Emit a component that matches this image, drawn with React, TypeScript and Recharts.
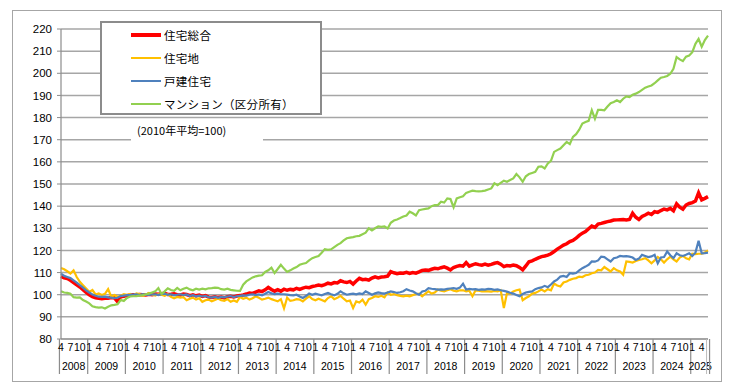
import React from "react";
import { CartesianGrid, Line, LineChart, XAxis, YAxis } from "recharts";

// 不動産価格指数（住宅） 2008年4月〜2025年6月, 2010年平均=100
const seriesNames = ["住宅総合", "住宅地", "戸建住宅", "マンション（区分所有）"];
const seriesKeys = ["total", "land", "house", "condo"];
const seriesColors = ["#ff0000", "#ffc000", "#4f81bd", "#92d050"];
const seriesWidths = [3.5, 2.2, 2.2, 2.2];
const yTicks = [80, 90, 100, 110, 120, 130, 140, 150, 160, 170, 180, 190, 200, 210, 220];
const monthLabels = [1, 4, 7, 10];
const startYear = 2008;
const startMonth = 4;

const total = [
  108.3, 107.6, 107.3, 106.5, 105.5, 104.5, 103.5, 102.3, 101.0,
  100.0, 99.1, 98.6, 98.4, 98.2, 98.4, 98.4, 98.7, 98.6, 96.9, 99.1, 99.3,
  99.6, 99.9, 100.0, 99.8, 100.1, 100.0, 99.9, 100.2, 100.0, 100.3, 100.2, 100.4,
  100.6, 100.1, 100.2, 100.4, 100.0, 99.9, 100.3, 100.1, 99.6, 100.0, 99.5, 99.8,
  99.2, 99.6, 98.9, 98.8, 99.1, 98.7, 98.9, 98.6, 99.1, 99.3, 99.0, 99.4,
  99.6, 99.9, 100.3, 100.8, 100.6, 101.2, 101.8, 101.4, 102.2, 103.3, 102.4, 101.6,
  102.3, 101.6, 102.5, 102.0, 102.4, 102.2, 102.9, 102.4, 103.0, 103.4, 103.2, 103.7,
  104.0, 104.4, 104.1, 104.6, 105.2, 104.9, 105.5, 105.3, 106.3, 105.8, 105.5, 106.0,
  104.8, 106.2, 107.4, 106.8, 107.0, 106.6, 107.5, 108.1, 107.6, 108.0, 108.1, 108.4,
  110.4, 109.9, 109.5, 109.8, 109.7, 110.1, 109.6, 110.0, 109.7, 110.3, 111.0, 111.2,
  111.0, 111.5, 111.9, 111.7, 112.2, 112.6, 112.0, 111.2, 112.3, 112.8, 113.2, 112.9,
  114.5, 112.9, 113.5, 114.0, 113.6, 113.3, 113.8, 113.3, 113.7, 114.2, 114.5, 113.8,
  112.7, 113.2, 113.0, 113.4, 113.1, 112.3, 111.2, 113.0, 114.9, 115.3, 116.0, 116.6,
  117.2, 117.5, 117.9, 118.5, 119.5, 120.6, 121.5, 122.4, 123.0, 124.0, 124.5, 125.5,
  126.8, 127.8, 128.5, 129.8, 131.0, 130.4, 131.9, 132.2, 132.6, 133.0, 133.3, 133.7,
  133.8, 133.9, 134.0, 133.8, 134.0, 136.8, 135.0, 134.0, 135.3, 136.0, 136.8, 136.2,
  137.5, 137.2, 138.0, 138.7, 138.3, 139.0, 137.9, 141.0, 139.5, 138.6, 140.5, 141.2,
  141.6, 142.3, 146.0, 142.8, 143.5, 144.3,
];

const land = [
  112.1, 111.5, 110.6, 109.6, 111.0, 108.0, 105.8, 104.3, 102.8,
  101.3, 102.1, 100.1, 100.6, 99.9, 100.4, 102.5, 99.1, 99.9, 99.1, 99.5, 100.2,
  99.9, 100.4, 99.6, 100.6, 100.3, 99.5, 100.0, 100.8, 100.1, 99.6, 100.3, 100.0,
  99.5, 100.2, 99.1, 98.4, 99.0, 98.7, 98.9, 97.5, 98.2, 98.7, 97.8, 98.4,
  96.8, 97.5, 97.8, 97.0, 97.6, 98.3, 97.5, 97.2, 98.0, 96.8, 97.4, 96.8,
  99.0, 98.2, 98.7, 97.8, 98.4, 99.3, 98.6, 97.8, 98.2, 98.7, 98.0, 97.5,
  97.0, 98.0, 93.8, 98.7, 97.2, 97.5, 98.0, 97.8, 97.0, 98.2, 99.3, 98.0,
  97.5, 98.2, 97.6, 97.0, 98.5, 99.3, 98.0, 98.6, 99.5, 98.2, 97.0, 97.4,
  94.0, 97.0, 96.5, 97.8, 95.5, 98.0, 98.5, 99.3, 99.0, 99.5, 98.8, 101.0,
  100.0, 100.3, 99.8, 99.5, 99.3, 99.6, 99.3, 99.8, 100.2, 100.5, 99.3, 100.5,
  101.5, 100.5, 101.0, 102.3, 101.8, 101.5, 102.0, 102.5, 101.8, 101.5, 102.0, 102.0,
  101.5, 101.8, 99.3, 102.0, 101.8, 101.5, 101.6, 101.5, 101.4, 101.7, 101.5, 102.0,
  94.0, 100.8, 100.5, 101.5, 102.0, 102.3, 97.5, 98.5, 99.3, 100.5, 100.8, 101.5,
  102.3, 101.5, 102.5, 102.0, 105.0, 104.2, 103.7, 105.5, 106.0, 106.7, 107.2, 107.5,
  108.2, 108.0, 108.8, 109.0, 109.7, 110.0, 111.2, 111.0, 112.5, 111.5, 110.5, 112.0,
  111.0, 110.5, 109.0, 115.0, 114.8, 114.5, 115.2, 115.7, 116.0, 116.5, 115.5, 114.2,
  115.5, 117.0, 116.0, 114.5, 116.0, 117.2, 116.0, 115.0, 116.8, 117.5, 116.5, 116.0,
  118.5, 118.3, 118.5, 118.5, 119.0, 120.0,
];

const house = [
  109.5, 108.5, 108.0, 107.5, 106.5, 105.5, 104.3, 103.2, 102.0,
  101.0, 100.1, 99.5, 99.1, 99.0, 99.1, 98.8, 98.7, 98.4, 98.6, 99.4, 99.6,
  99.8, 99.9, 100.1, 100.2, 99.8, 100.3, 100.0, 99.9, 100.1, 100.2, 99.8, 100.3,
  100.5, 99.9, 100.2, 99.7, 100.0, 100.2, 99.8, 100.1, 99.4, 99.8, 99.3, 99.6,
  99.2, 99.5, 98.9, 98.7, 99.1, 98.6, 99.0, 98.8, 99.2, 99.4, 98.9, 99.3,
  99.5, 99.7, 99.6, 100.0, 100.2, 99.8, 100.1, 99.7, 100.4, 101.2, 100.6, 100.3,
  100.5, 100.2, 100.2, 100.0, 99.8, 99.7, 100.0, 99.2, 98.5, 99.4, 100.5, 100.0,
  100.5, 100.1, 99.7, 100.3, 100.8, 100.2, 99.7, 100.4, 101.5, 100.6, 100.0, 100.3,
  100.5, 100.2, 100.6, 100.3, 101.5, 100.8, 100.0, 100.6, 101.0, 100.7, 100.5, 101.0,
  101.5, 101.2, 100.8, 101.1, 101.6, 102.5, 101.9, 101.5, 100.7, 100.0, 101.5, 101.8,
  103.0, 102.7, 102.5, 102.3, 102.4, 102.3, 102.6, 102.8, 103.0, 102.7, 103.2, 105.0,
  102.3, 102.6, 102.4, 102.5, 102.2, 102.4, 102.3, 102.6, 102.5, 102.2, 102.4, 102.0,
  101.7, 101.4, 100.9, 100.5, 99.9, 99.3, 100.3, 101.0, 101.3, 101.5, 102.5, 103.0,
  103.3, 104.0, 103.4, 104.6, 106.0, 106.8, 108.2, 108.5, 108.0, 109.7, 109.5, 109.8,
  111.0, 112.0, 112.7, 113.5, 115.0, 114.9, 115.5, 117.2, 117.0, 116.0, 115.0, 116.5,
  116.8, 117.5, 117.3, 117.4, 117.2, 116.8, 115.7, 116.3, 118.0, 117.5, 117.0, 117.3,
  118.0, 114.2, 116.8, 117.0, 119.5, 117.8, 116.5, 118.7, 117.8, 117.5, 118.0, 118.7,
  117.5, 119.0, 124.4, 118.7, 118.8, 119.0,
];

const condo = [
  101.6, 101.0, 100.8, 100.4, 98.9, 98.7, 98.8, 97.6, 96.9,
  96.1, 94.8, 94.4, 94.2, 94.3, 93.8, 94.6, 95.2, 95.4, 95.7, 97.6, 97.2,
  98.5, 99.2, 99.3, 99.4, 99.6, 99.8, 100.2, 100.5, 101.0, 101.5, 103.0, 100.3,
  101.5, 102.9, 102.1, 101.8, 103.1, 102.0, 102.7, 103.2, 102.4, 102.0, 102.7, 102.3,
  102.7, 102.4, 102.9, 103.0, 103.2, 103.1, 102.5, 102.3, 102.7, 102.2, 102.0, 101.8,
  101.7, 104.5, 106.0, 106.9, 107.8, 108.3, 108.6, 108.8, 110.3, 111.0, 112.2, 109.8,
  111.6, 113.5, 111.8, 110.3, 111.0, 111.8, 112.5, 113.5, 114.0, 114.3, 115.5, 116.5,
  117.0, 117.5, 119.0, 120.6, 120.3, 120.5, 121.5, 122.5, 123.3, 124.5, 125.5, 125.8,
  126.0, 126.4, 126.6, 127.3, 128.0, 130.0, 129.0, 130.0, 130.8, 130.6, 130.8, 129.9,
  132.5, 133.5, 134.0, 134.6, 135.3, 135.8, 137.5, 136.8, 135.8, 138.2, 138.5, 138.8,
  139.0, 140.0, 140.5, 140.5, 142.0, 141.6, 143.5, 143.2, 139.5, 143.5, 144.0, 144.5,
  146.0, 146.5, 147.0, 146.8, 146.7, 146.8, 147.0, 147.5, 148.0, 150.3, 149.5, 150.5,
  151.5, 151.0, 151.8, 152.5, 154.5, 153.0, 151.0, 153.5, 154.5, 155.0, 155.5, 157.8,
  158.0, 157.0, 159.3, 160.5, 164.5, 165.3, 166.0, 167.5, 169.0, 168.0, 171.3, 172.5,
  174.5, 177.3, 178.0, 178.5, 183.3, 179.5, 183.5, 183.5, 183.3, 185.0, 186.5, 187.0,
  187.8, 187.0, 188.5, 189.6, 189.3, 190.3, 190.8, 191.5, 192.5, 193.5, 194.0, 194.5,
  195.5, 196.8, 198.0, 198.3, 198.8, 199.8, 202.0, 207.3, 206.3, 205.5, 207.5, 208.0,
  209.5, 213.3, 215.5, 212.0, 215.0, 217.0,
];

const W = 739;
const H = 389;
const M = { top: 29, right: 31, bottom: 15, left: 21 };
const Y_AXIS_W = 40;
const X_AXIS_H = 35;
const PLOT_W = W - M.left - M.right - Y_AXIS_W;
const AXIS_GRAY = "#8c8c8c";
const FONT = "'Liberation Sans', Arial, 'Noto Sans CJK JP', sans-serif";

const data = total.map((v, i) => {
  const m0 = startMonth - 1 + i;
  return {
    idx: i,
    year: startYear + Math.floor(m0 / 12),
    month: (m0 % 12) + 1,
    total: v,
    land: land[i],
    house: house[i],
    condo: condo[i],
  };
});

// first / last index of each year, for the year labels under the month labels
const yearSpan: Record<number, [number, number]> = {};
data.forEach((d) => {
  if (!yearSpan[d.year]) yearSpan[d.year] = [d.idx, d.idx];
  yearSpan[d.year][1] = d.idx;
});

function MonthYearTick(props: any) {
  const { x, y, payload } = props;
  const i = Number(payload.value);
  const d = data[i];
  const band = payload.offset ? payload.offset * 2 : PLOT_W / data.length;
  const [first, last] = yearSpan[d.year];
  const mid = (first + last) / 2;
  const out: React.ReactNode[] = [];

  if (d.month === 1 || i === 0) {
    const lx = x - band / 2;
    out.push(<line key="s" x1={lx} x2={lx} y1={y} y2={y + 35} stroke={AXIS_GRAY} strokeWidth={1.2} />);
  }
  if (i === data.length - 1) {
    const rx = x + band / 2;
    out.push(<line key="e1" x1={rx} x2={rx} y1={y} y2={y + 35} stroke={AXIS_GRAY} strokeWidth={1.2} />);
    out.push(<line key="e2" x1={rx - 3} x2={rx - 3} y1={y} y2={y + 35} stroke="#bbbbbb" strokeWidth={1} />);
  }
  if (monthLabels.includes(d.month)) {
    out.push(
      <text key="m" x={x} y={y + 12} textAnchor="middle" fontSize={10.5} fill="#000" fontFamily={FONT}>
        {d.month}
      </text>
    );
  }
  if (i === Math.floor(mid)) {
    out.push(
      <text key="y" x={x + (mid - i) * band} y={y + 31} textAnchor="middle" fontSize={10.5} fill="#000" fontFamily={FONT}>
        {d.year}
      </text>
    );
  }
  return <g>{out}</g>;
}

export default function App() {
  return (
    <div style={{ position: "absolute", left: 0, top: 0, width: W, height: H, background: "#fff", fontFamily: FONT }}>
      <div
        style={{
          position: "absolute",
          left: 12,
          top: 10,
          width: 708,
          height: 370,
          border: "1.5px solid #a6a6a6",
        }}
      />
      <div style={{ position: "absolute", left: 0, top: 0 }}>
        <LineChart width={W} height={H} data={data} margin={M}>
          <CartesianGrid horizontal vertical={false} stroke="#a6a6a6" strokeWidth={1.5} />
          <XAxis
            dataKey="idx"
            type="category"
            interval={0}
            height={X_AXIS_H}
            tickLine={false}
            tickSize={0}
            tickMargin={0}
            axisLine={{ stroke: AXIS_GRAY, strokeWidth: 1.2 }}
            tick={<MonthYearTick />}
          />
          <YAxis
            type="number"
            domain={[80, 220]}
            ticks={yTicks}
            interval={0}
            width={Y_AXIS_W}
            tickSize={4}
            tickMargin={5}
            tickLine={{ stroke: AXIS_GRAY }}
            axisLine={{ stroke: AXIS_GRAY, strokeWidth: 1.2 }}
            tick={{ fontSize: 11.5, fill: "#000", fontFamily: FONT }}
          />
          {seriesKeys.map((k, n) => (
            <Line
              key={k}
              type="linear"
              dataKey={k}
              name={seriesNames[n]}
              stroke={seriesColors[n]}
              strokeWidth={seriesWidths[n]}
              dot={false}
              isAnimationActive={false}
            />
          ))}
        </LineChart>
      </div>

      {/* legend */}
      <div
        style={{
          position: "absolute",
          left: 100,
          top: 21,
          width: 218,
          height: 90,
          background: "#fff",
          border: "2px solid #8c8c8c",
        }}
      >
        {seriesNames.map((name, n) => (
          <div
            key={name}
            style={{ position: "absolute", left: 29, top: 12 + n * 23 - 8, height: 16, display: "flex", alignItems: "center" }}
          >
            <div style={{ width: 30, height: seriesWidths[n] + 0.5, background: seriesColors[n] }} />
            <span style={{ marginLeft: 3, fontSize: 11.5, color: "#000", letterSpacing: 0.3, fontFamily: "'Noto Sans CJK JP', sans-serif" }}>
              {name}
            </span>
          </div>
        ))}
      </div>

      {/* base note */}
      <div
        style={{
          position: "absolute",
          left: 131,
          top: 119,
          width: 132,
          height: 22,
          background: "#fff",
          fontSize: 11,
          lineHeight: "22px",
          paddingLeft: 6,
          boxSizing: "border-box",
          color: "#000",
          fontFamily: "'Noto Sans CJK JP', sans-serif",
        }}
      >
        (2010年平均=100)
      </div>
    </div>
  );
}
